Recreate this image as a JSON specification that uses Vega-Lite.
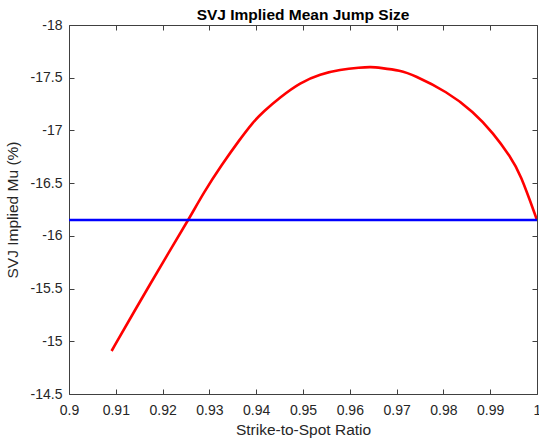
{
  "$schema": "https://vega.github.io/schema/vega-lite/v6.json",
  "autosize": "none",
  "width": 468,
  "height": 369,
  "padding": {"left": 69, "top": 25, "right": 2, "bottom": 45},
  "background": "white",
  "config": {
    "view": {"stroke": null},
    "font": "Liberation Sans",
    "axis": {
      "labelFont": "Liberation Sans",
      "titleFont": "Liberation Sans",
      "labelFontSize": 14,
      "titleFontSize": 15.5,
      "titleFontWeight": "normal",
      "labelColor": "#262626",
      "titleColor": "#262626",
      "domainColor": "#404040",
      "tickColor": "#404040",
      "domainWidth": 1,
      "tickWidth": 1,
      "grid": false,
      "labelFlush": false
    }
  },
  "title": {
    "text": "SVJ Implied Mean Jump Size",
    "font": "Liberation Sans",
    "fontSize": 15.5,
    "fontWeight": "bold",
    "color": "#000000",
    "anchor": "middle",
    "offset": -5
  },
  "datasets": {
    "curve": [
      {"ratio": 0.9091, "mu": -14.908},
      {"ratio": 0.9137, "mu": -15.266},
      {"ratio": 0.9216, "mu": -15.866},
      {"ratio": 0.9255, "mu": -16.15},
      {"ratio": 0.9289, "mu": -16.42},
      {"ratio": 0.9326, "mu": -16.672},
      {"ratio": 0.9364, "mu": -16.909},
      {"ratio": 0.9394, "mu": -17.083},
      {"ratio": 0.9415, "mu": -17.178},
      {"ratio": 0.9451, "mu": -17.315},
      {"ratio": 0.9494, "mu": -17.455},
      {"ratio": 0.9537, "mu": -17.535},
      {"ratio": 0.9579, "mu": -17.576},
      {"ratio": 0.9622, "mu": -17.597},
      {"ratio": 0.9645, "mu": -17.603},
      {"ratio": 0.9665, "mu": -17.594},
      {"ratio": 0.9708, "mu": -17.568},
      {"ratio": 0.9736, "mu": -17.526},
      {"ratio": 0.9808, "mu": -17.367},
      {"ratio": 0.9864, "mu": -17.178},
      {"ratio": 0.9907, "mu": -16.973},
      {"ratio": 0.9943, "mu": -16.751},
      {"ratio": 0.9964, "mu": -16.593},
      {"ratio": 1.0, "mu": -16.15}
    ],
    "ref": [
      {"ratio": 0.9, "mu": -16.15},
      {"ratio": 1.0, "mu": -16.15}
    ]
  },
  "layer": [
    {
      "data": {"name": "curve"},
      "mark": {"type": "line", "color": "#ff0000", "strokeWidth": 2.6, "clip": true, "interpolate": "basis"},
      "encoding": {
        "x": {
          "field": "ratio", "type": "quantitative",
          "scale": {"domain": [0.9, 1.0], "nice": false, "zero": false},
          "axis": {
            "orient": "bottom",
            "title": "Strike-to-Spot Ratio",
            "values": [0.9, 0.91, 0.92, 0.93, 0.94, 0.95, 0.96, 0.97, 0.98, 0.99, 1],
            "labelExpr": "'' + datum.value",
            "tickSize": -5,
            "labelPadding": 14,
            "titlePadding": 5
          }
        },
        "y": {
          "field": "mu", "type": "quantitative",
          "scale": {"domain": [-18, -14.5], "nice": false, "zero": false, "reverse": true},
          "axis": {
            "orient": "left",
            "title": "SVJ Implied Mu (%)",
            "values": [-18, -17.5, -17, -16.5, -16, -15.5, -15, -14.5],
            "labelExpr": "'' + datum.value",
            "tickSize": -5,
            "labelPadding": 12,
            "titlePadding": 10
          }
        }
      }
    },
    {
      "data": {"name": "ref"},
      "mark": {"type": "line", "color": "#0000ff", "strokeWidth": 2.6, "clip": true},
      "encoding": {
        "x": {
          "field": "ratio", "type": "quantitative",
          "axis": {
            "orient": "top",
            "title": null,
            "labels": false,
            "values": [0.9, 0.91, 0.92, 0.93, 0.94, 0.95, 0.96, 0.97, 0.98, 0.99, 1],
            "tickSize": -5
          }
        },
        "y": {
          "field": "mu", "type": "quantitative",
          "axis": {
            "orient": "right",
            "title": null,
            "labels": false,
            "values": [-18, -17.5, -17, -16.5, -16, -15.5, -15, -14.5],
            "tickSize": -5
          }
        }
      }
    }
  ],
  "resolve": {"axis": {"x": "independent", "y": "independent"}}
}
